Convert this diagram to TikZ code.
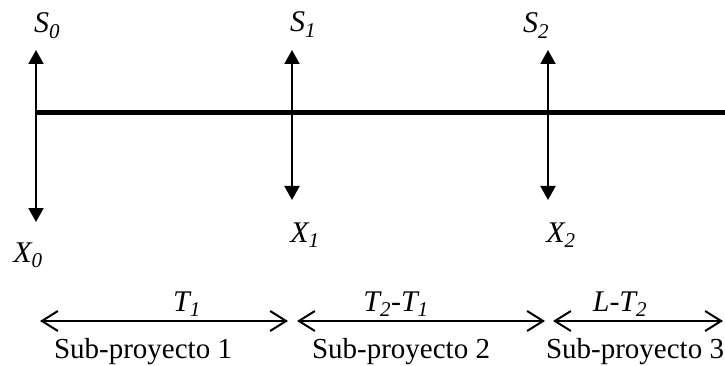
\documentclass[tikz,border=0pt]{standalone}
\usepackage{fontspec}
\setmainfont{Liberation Serif}
\usetikzlibrary{arrows.meta}
\tikzset{
  lbl/.style={inner sep=0pt, anchor=base, font=\fontsize{30}{34}\selectfont\itshape},
  sub/.style={inner sep=0pt, anchor=base, font=\fontsize{29}{34}\selectfont},
  timeline/.style={line width=5pt},
  flow/.style={line width=2pt, {Triangle[width=15pt,length=14pt]}-{Triangle[width=15pt,length=14pt]}},
  span/.style={line width=2pt, {Straight Barb[width=20pt,length=16pt,line width=2pt]}-{Straight Barb[width=20pt,length=16pt,line width=2pt]}}
}
\begin{document}
\begin{tikzpicture}[x=1pt,y=-1pt]
\useasboundingbox (0,0) rectangle (725,366);
% timeline
\coordinate (L0) at (36,113);
\coordinate (L1) at (725,113);
\draw[timeline] (L0) -- (L1);
% vertical flows
\coordinate (a0) at (36,50);  \coordinate (b0) at (36,222);
\coordinate (a1) at (292,50); \coordinate (b1) at (292,200);
\coordinate (a2) at (548,50); \coordinate (b2) at (548,200);
\draw[flow] (a0) -- (b0);
\draw[flow] (a1) -- (b1);
\draw[flow] (a2) -- (b2);
% labels
\node[lbl] (s0) at (47,33) {S\textsubscript{0}};
\node[lbl] (s1) at (303,32) {S\textsubscript{1}};
\node[lbl] (s2) at (536,33) {S\textsubscript{2}};
\node[lbl] (x0) at (28,262) {X\textsubscript{0}};
\node[lbl] (x1) at (305,242) {X\textsubscript{1}};
\node[lbl] (x2) at (561,242) {X\textsubscript{2}};
% spans
\coordinate (p0) at (40,321);  \coordinate (p1) at (288,321);
\coordinate (q0) at (297,321); \coordinate (q1) at (545,321);
\coordinate (r0) at (553,321); \coordinate (r1) at (723,321);
\draw[span] (p0) -- (p1);
\draw[span] (q0) -- (q1);
\draw[span] (r0) -- (r1);
\node[lbl] (t1) at (187,311) {T\textsubscript{1}};
\node[lbl] (t2) at (396,311) {T\textsubscript{2}-T\textsubscript{1}};
\node[lbl] (t3) at (620,311) {L-T\textsubscript{2}};
\node[sub] (sp1) at (143,358) {Sub-proyecto 1};
\node[sub] (sp2) at (401,358) {Sub-proyecto 2};
\node[sub] (sp3) at (635,358) {Sub-proyecto 3};
\end{tikzpicture}
\end{document}
